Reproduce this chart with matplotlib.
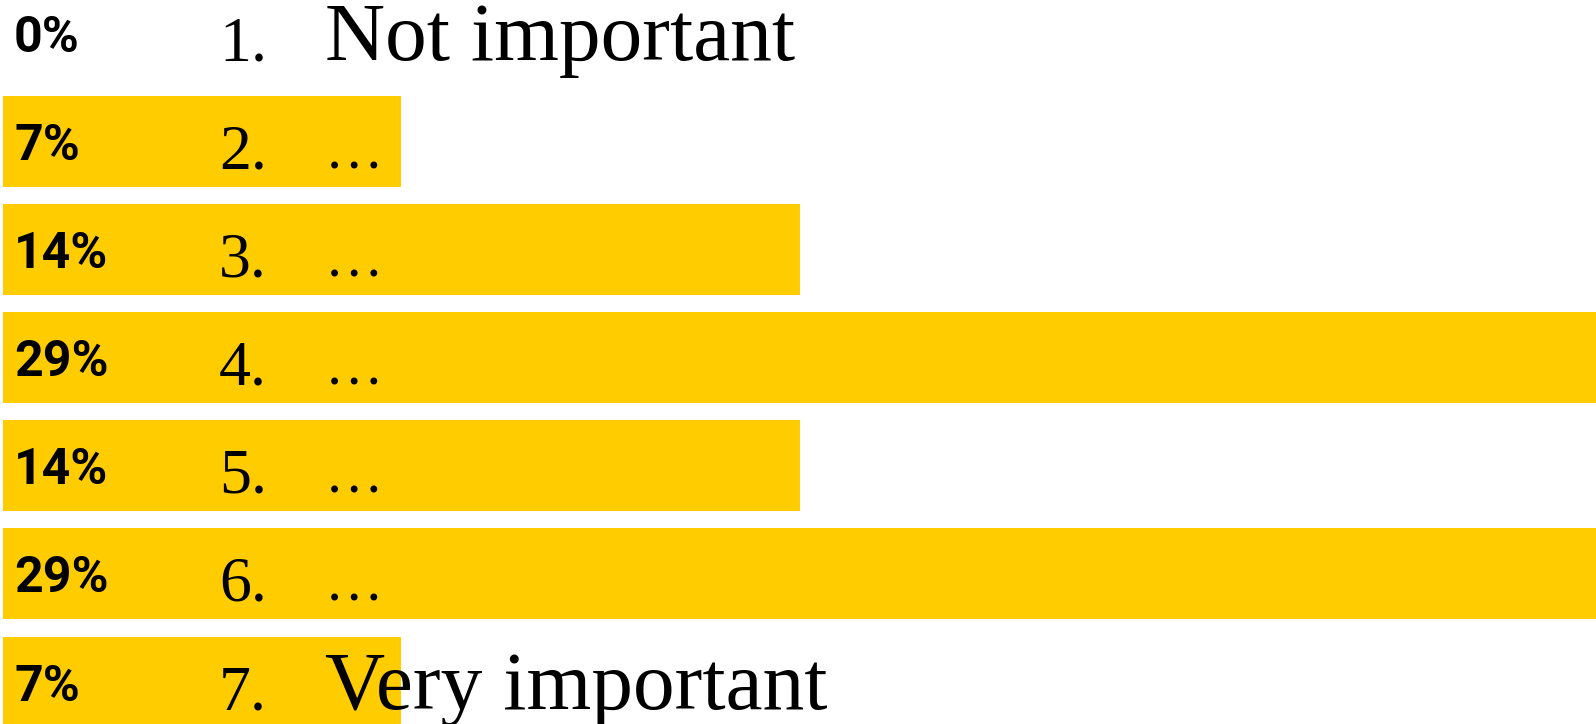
import matplotlib
matplotlib.use("Agg")
import matplotlib.pyplot as plt

# answer scale 1..7, share of respondents (%)
levels = ["1.", "2.", "3.", "4.", "5.", "6.", "7."]
answers = ["Not important", "…", "…", "…", "…", "…", "Very important"]
shares = [0.0, 7.14, 14.29, 28.57, 14.29, 28.57, 7.14]
pct_labels = ["%d%%" % round(s) for s in shares]

W, H = 1596, 724
fig = plt.figure(figsize=(W / 100, H / 100), dpi=100)
ax = fig.add_axes([0, 0, 1, 1])
ax.set_axis_off()

rows = list(range(len(levels)))
ax.barh(rows, shares, height=0.84, left=0, color="#FFCC00", linewidth=0)

# pixel-fitted limits: x=0 at px 3, biggest bar hits the right edge
px = max(shares) / (W - 3)
ax.set_xlim(-3 * px, max(shares))
row_px = 108.1
ax.set_ylim((H - 33.4) / row_px, -33.4 / row_px)

tr = ax.get_yaxis_transform()
for i in rows:
    ax.text(14 / W, i + 18.5 / row_px, pct_labels[i], transform=tr,
            fontsize=36, fontweight="bold", family="Roboto",
            ha="left", va="baseline", color="black")
    ax.text(219 / W, i + 27 / row_px, levels[i], transform=tr,
            fontsize=46, family="Liberation Serif",
            ha="left", va="baseline", color="black")
    size = 60 if len(answers[i]) > 1 else 42
    ax.text(325 / W, i + 27 / row_px, answers[i], transform=tr,
            fontsize=size, family="Liberation Serif",
            ha="left", va="baseline", color="black")

fig.savefig("out.png", dpi=100)
